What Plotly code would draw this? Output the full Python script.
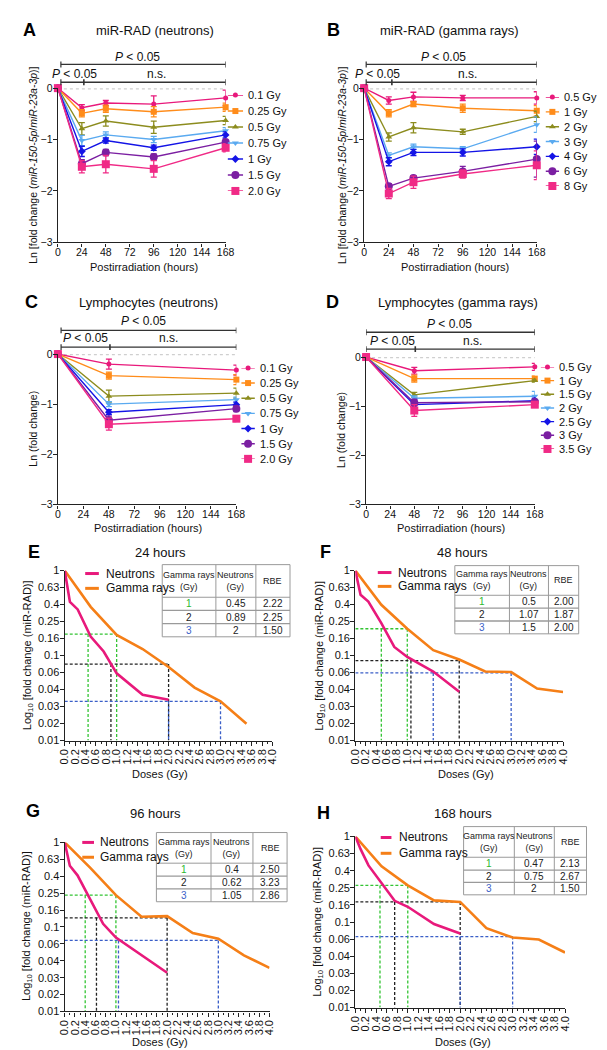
import numpy as np
import plotly.graph_objects as go

W, H = 607, 1050
FONT = "Liberation Sans, Arial, sans-serif"

# ---------------- data: panels A-D (Ln fold change) ----------------
hours_mir = [0, 24, 48, 96, 168]
hours_lym = [0, 48, 168]

A_labels = ["0.1 Gy", "0.25 Gy", "0.5 Gy", "0.75 Gy", "1 Gy", "1.5 Gy", "2.0 Gy"]
A_mean = [[0, -0.38, -0.29, -0.31, -0.19],
          [0, -0.49, -0.40, -0.46, -0.37],
          [0, -0.79, -0.64, -0.76, -0.63],
          [0, -1.02, -0.91, -1.00, -0.83],
          [0, -1.23, -1.02, -1.16, -0.91],
          [0, -1.47, -1.25, -1.34, -1.05],
          [0, -1.53, -1.48, -1.57, -1.16]]
A_err = [[0, .06, .05, .16, .15],
         [0, .07, .07, .10, .08],
         [0, .12, .10, .12, .08],
         [0, .10, .06, .06, .06],
         [0, .10, .05, .05, .06],
         [0, .08, .06, .06, .06],
         [0, .12, .17, .16, .08]]

B_labels = ["0.5 Gy", "1 Gy", "2 Gy", "3 Gy", "4 Gy", "6 Gy", "8 Gy"]
B_mean = [[0, -0.24, -0.17, -0.19, -0.19],
          [0, -0.49, -0.31, -0.39, -0.44],
          [0, -0.95, -0.77, -0.85, -0.55],
          [0, -1.31, -1.14, -1.18, -0.71],
          [0, -1.43, -1.25, -1.25, -1.14],
          [0, -1.91, -1.75, -1.62, -1.38],
          [0, -2.05, -1.83, -1.67, -1.50]]
B_err = [[0, .07, .09, .05, .12],
         [0, .07, .05, .08, .10],
         [0, .08, .10, .05, .10],
         [0, .05, .05, .04, .15],
         [0, .08, .06, .07, .15],
         [0, .05, .05, .10, .35],
         [0, .10, .12, .08, .28]]

C_labels = ["0.1 Gy", "0.25 Gy", "0.5 Gy", "0.75 Gy", "1 Gy", "1.5 Gy", "2.0 Gy"]
C_mean = [[0, -0.20, -0.32], [0, -0.43, -0.51], [0, -0.84, -0.78], [0, -1.00, -0.91],
          [0, -1.16, -1.01], [0, -1.32, -1.09], [0, -1.40, -1.29]]
C_err = [[0, .10, .10], [0, .07, .10], [0, .12, .10], [0, .05, .05],
         [0, .05, .05], [0, .08, .06], [0, .12, .06]]

D_labels = ["0.5 Gy", "1 Gy", "1.5 Gy", "2 Gy", "2.5 Gy", "3 Gy", "3.5 Gy"]
D_mean = [[0, -0.28, -0.20], [0, -0.44, -0.44], [0, -0.77, -0.48], [0, -0.84, -0.80],
          [0, -0.97, -0.89], [0, -0.93, -0.91], [0, -1.09, -0.97]]
D_err = [[0, .07, .07], [0, .07, .05], [0, .05, .03], [0, .05, .10],
         [0, .10, .05], [0, .07, .05], [0, .12, .05]]

# ---------------- data: panels E-H (fold change, custom log-like axis) ----------------
y_tick_values = [0.01, 0.02, 0.03, 0.04, 0.06, 0.1, 0.16, 0.25, 0.4, 0.63, 1]
y_tick_text = ["0.01", "0.02", "0.03", "0.04", "0.06", "0.1", "0.16", "0.25", "0.4", "0.63", "1"]

neutron_doses = [0, 0.1, 0.25, 0.5, 0.75, 1.0, 1.5, 2.0]
gamma_doses_E = [0, 0.5, 1.0, 1.5, 2.0, 2.5, 3.0, 3.5]
gamma_doses = [0, 0.5, 1.0, 1.5, 2.0, 2.5, 3.0, 3.5, 4.0]

E_neutron = [1, 0.43, 0.35, 0.169, 0.112, 0.059, 0.0366, 0.0337]
E_gamma = [1, 0.376, 0.176, 0.12, 0.071, 0.042, 0.0328, 0.0199]
F_neutron = [1, 0.52, 0.434, 0.24, 0.127, 0.096, 0.062, 0.0386]
F_gamma = [1, 0.398, 0.207, 0.116, 0.089, 0.062, 0.061, 0.041, 0.0384]
G_neutron = [1, 0.53, 0.41, 0.211, 0.109, 0.0725, 0.046, 0.0326]
G_gamma = [1, 0.50, 0.237, 0.133, 0.135, 0.083, 0.07, 0.0456, 0.0354]
H_neutron = [1, 0.71, 0.46, 0.28, 0.178, 0.152, 0.094, 0.071]
H_gamma = [1, 0.45, 0.267, 0.18, 0.173, 0.083, 0.063, 0.0595, 0.0437]

table_header = ["Gamma rays<br>(Gy)", "Neutrons<br>(Gy)", "RBE"]
table_gamma = ["1", "2", "3"]
table_gamma_dose = [1, 2, 3]
E_tab_neutron = [0.45, 0.89, 2]
E_tab_rbe = ["2.22", "2.25", "1.50"]
F_tab_neutron = [0.5, 1.07, 1.5]
F_tab_rbe = ["2.00", "1.87", "2.00"]
G_tab_neutron = [0.4, 0.62, 1.05]
G_tab_rbe = ["2.50", "3.23", "2.86"]
H_tab_neutron = [0.47, 0.75, 2]
H_tab_rbe = ["2.13", "2.67", "1.50"]

E_levels = [0.18, 0.0775, 0.0328]
F_levels = [0.207, 0.086, 0.0595]
G_levels = [0.237, 0.129, 0.0665]
H_levels = [0.267, 0.173, 0.0648]

# ---------------- styles ----------------
series_colors = ["#e8197b", "#ff8c1a", "#8c8c1e", "#5aaaf0", "#1414e6", "#7b1fa2", "#f02a86"]
series_symbols = ["circle", "square", "triangle-up", "triangle-down", "diamond", "circle", "square"]
series_sizes = [5, 6, 6, 6, 6, 8, 8]
NEU_COLOR = "#e8197b"
GAM_COLOR = "#f57f17"
DASH_COLORS = ["#33c433", "#222222", "#3b5fc8"]
TAB_TEXT_COLORS = ["#2eb82e", "#222222", "#3b5fc8"]
AX = "#222222"


def px_x(x):
    return x / W


def px_y(y):
    return 1 - y / H


fig = go.Figure()
annotations = []
shapes = []


def ann(text, x, y, size=11, xanchor="center", yanchor="middle", bold=False, angle=0, color="#111"):
    if bold:
        text = "<b>" + text + "</b>"
    annotations.append(dict(text=text, x=px_x(x), y=px_y(y), xref="paper", yref="paper",
                            showarrow=False, xanchor=xanchor, yanchor=yanchor, textangle=angle,
                            font=dict(family=FONT, size=size, color=color)))


def pline(x0, y0, x1, y1, color, width):
    shapes.append(dict(type="line", xref="paper", yref="paper", x0=px_x(x0), x1=px_x(x1),
                       y0=px_y(y0), y1=px_y(y1), line=dict(color=color, width=width)))


def yfc(vals):
    return np.interp(np.log(vals), np.log(y_tick_values), np.arange(len(y_tick_values)))


# panel geometry (px): x0, x1, ytop, ybottom
geomAD = {1: (45, 217, 75, 231), 2: (359, 536, 75, 231), 3: (45, 228, 344, 496), 4: (361, 534, 347, 496)}
geomEH = {5: (52, 265, 563, 735), 6: (350, 563, 563, 735), 7: (52, 262, 838, 1009), 8: (350, 565, 832, 1005)}

layout_axes = {}


def axname(i, kind):
    return kind + "axis" + ("" if i == 1 else str(i))


def ref(i, kind):
    return kind + ("" if i == 1 else str(i))


base_ax = dict(showline=True, linecolor=AX, linewidth=1.4, ticks="outside", ticklen=4,
               tickwidth=1.3, tickcolor=AX, showgrid=False, zeroline=False,
               tickfont=dict(family=FONT, size=10.5, color="#111"))

for i, (x0, x1, y0, y1) in geomAD.items():
    layout_axes[axname(i, "x")] = dict(base_ax, domain=[px_x(x0), px_x(x1)], range=[0, 168], ticklen=3,
                                       ticklabelstandoff=-3,
                                       tickvals=[0, 24, 48, 72, 96, 120, 144, 168], anchor=ref(i, "y"))
    layout_axes[axname(i, "y")] = dict(base_ax, domain=[px_y(y1), px_y(y0)], range=[-3, 0],
                                       ticklabelstandoff=-2,
                                       tickvals=[0, -1, -2, -3], anchor=ref(i, "x"))

for i, (x0, x1, y0, y1) in geomEH.items():
    layout_axes[axname(i, "x")] = dict(base_ax, domain=[px_x(x0), px_x(x1)], range=[0, 4],
                                       tickmode="linear", tick0=0, dtick=0.2, tickformat=".1f",
                                       tickangle=-90, anchor=ref(i, "y"), ticklabelstandoff=-1,
                                       tickfont=dict(family=FONT, size=11, color="#111"),
                                       minor=dict(dtick=0.1, ticks="outside", ticklen=2, tickcolor=AX))
    layout_axes[axname(i, "y")] = dict(base_ax, domain=[px_y(y1), px_y(y0)], range=[0, 10],
                                       tickvals=list(range(11)), ticktext=y_tick_text, anchor=ref(i, "x"),
                                       ticklabelstandoff=-2,
                                       tickfont=dict(family=FONT, size=11, color="#111"))

# ---------------- panels A-D traces ----------------
panelsAD = [
    (1, hours_mir, A_mean, A_err),
    (2, hours_mir, B_mean, B_err),
    (3, hours_lym, C_mean, C_err),
    (4, hours_lym, D_mean, D_err),
]
for i, hrs, means, errs in panelsAD:
    fig.add_trace(go.Scatter(x=[hrs[0], hrs[-1]], y=[0, 0], mode="lines", xaxis=ref(i, "x"), yaxis=ref(i, "y"),
                             line=dict(color="#cfcfcf", width=2.5, dash="dot"), showlegend=False,
                             hoverinfo="skip", cliponaxis=False))
    for k in range(len(means)):
        fig.add_trace(go.Scatter(
            x=hrs, y=means[k], mode="lines+markers", xaxis=ref(i, "x"), yaxis=ref(i, "y"),
            line=dict(color=series_colors[k], width=1.4),
            marker=dict(symbol=series_symbols[k], size=series_sizes[k], color=series_colors[k]),
            error_y=dict(type="data", array=errs[k], color=series_colors[k], thickness=1.3, width=3),
            showlegend=False, cliponaxis=False))

# legends for A-D on hidden axes
legend_geom = {
    # (line x0, line x1, text x, first y, last y)
    1: (219, 235, 238, 82, 179),
    2: (545, 559, 562, 84, 174),
    3: (233, 247, 250, 358, 450),
    4: (540, 554, 557, 357, 440),
}
legend_labels = {1: A_labels, 2: B_labels, 3: C_labels, 4: D_labels}
for i, (lx0, lx1, tx, ly0, ly1) in legend_geom.items():
    j = 8 + i
    layout_axes[axname(j, "x")] = dict(domain=[px_x(lx0), px_x(lx1)], range=[0, 1], visible=False, anchor=ref(j, "y"))
    layout_axes[axname(j, "y")] = dict(domain=[px_y(ly1), px_y(ly0)], range=[6, 0], visible=False, anchor=ref(j, "x"))
    labels = legend_labels[i]
    for k in range(len(labels)):
        fig.add_trace(go.Scatter(x=[0, 0.5, 1], y=[k, k, k], mode="lines", xaxis=ref(j, "x"), yaxis=ref(j, "y"),
                                 line=dict(color=series_colors[k], width=1.4), showlegend=False,
                                 hoverinfo="skip", cliponaxis=False))
        fig.add_trace(go.Scatter(x=[0.5], y=[k], mode="markers", xaxis=ref(j, "x"), yaxis=ref(j, "y"),
                                 marker=dict(symbol=series_symbols[k], size=series_sizes[k], color=series_colors[k]),
                                 showlegend=False, hoverinfo="skip", cliponaxis=False))
        ly = ly0 + (ly1 - ly0) * k / (len(labels) - 1)
        ann(labels[k], tx, ly, size=11, xanchor="left")

# significance brackets
brackets = {
    # axis: (x start, x mid, x end, top y px, low y px, topP (x,y), lowP (x,y), ns (x,y))
    1: (3, 26, 168, 51, 69, (127, 43), (62, 61), (146, 61)),
    2: (2, 27, 168, 51, 69, (440, 43), (373, 61), (465, 61)),
    3: (3, 49, 168, 320, 337, (133, 311), (73, 328), (158, 328)),
    4: (0, 49, 168, 322, 339, (447, 314), (388, 331), (470, 331)),
}
for i, (xs, xm, xe, ty, by, tp, lp, ns) in brackets.items():
    xr = ref(i, "x")
    for (a, b, yy) in [(xs, xe, ty), (xs, xe, by)]:
        shapes.append(dict(type="line", xref=xr, yref="paper", x0=a, x1=b, y0=px_y(yy), y1=px_y(yy),
                           line=dict(color="#333", width=1.4)))
    for (xx, yy) in [(xs, ty), (xe, ty), (xs, by), (xm, by), (xe, by)]:
        shapes.append(dict(type="line", xref=xr, yref="paper", x0=xx, x1=xx, y0=px_y(yy - 3), y1=px_y(yy + 3),
                           line=dict(color="#333", width=1.6 if xx == xm else 1.2)))
    ann("<i>P</i> < 0.05", tp[0], tp[1], size=12)
    ann("<i>P</i> < 0.05", lp[0], lp[1], size=12)
    ann("n.s.", ns[0], ns[1], size=12)

# ---------------- panels E-H ----------------
panelsEH = [
    (5, gamma_doses_E, E_neutron, E_gamma, E_levels, E_tab_neutron, E_tab_rbe),
    (6, gamma_doses, F_neutron, F_gamma, F_levels, F_tab_neutron, F_tab_rbe),
    (7, gamma_doses, G_neutron, G_gamma, G_levels, G_tab_neutron, G_tab_rbe),
    (8, gamma_doses, H_neutron, H_gamma, H_levels, H_tab_neutron, H_tab_rbe),
]
for i, gd, neu, gam, levels, tneu, trbe in panelsEH:
    xr, yr = ref(i, "x"), ref(i, "y")
    for c in range(3):
        lv = yfc([levels[c]])[0]
        bottom = yfc([y_tick_values[0]])[0]
        xs = [0, table_gamma_dose[c], None, tneu[c], tneu[c], None, table_gamma_dose[c], table_gamma_dose[c]]
        ys = [lv, lv, None, lv, bottom, None, lv, bottom]
        fig.add_trace(go.Scatter(x=xs, y=ys, mode="lines", xaxis=xr, yaxis=yr,
                                 line=dict(color=DASH_COLORS[c], width=1.3, dash="3px,2px"),
                                 showlegend=False, hoverinfo="skip", cliponaxis=False))
    fig.add_trace(go.Scatter(x=gd, y=yfc(gam), mode="lines", xaxis=xr, yaxis=yr,
                             line=dict(color=GAM_COLOR, width=2.6), showlegend=False, cliponaxis=False))
    fig.add_trace(go.Scatter(x=neutron_doses, y=yfc(neu), mode="lines", xaxis=xr, yaxis=yr,
                             line=dict(color=NEU_COLOR, width=2.6), showlegend=False, cliponaxis=False))

# tables drawn with lines + text: column edges, row edges (px)
table_geom = {
    5: ([152, 207, 248, 283], [557, 590, 603.3, 616.7, 630]),
    6: ([452, 508, 548, 579], [558, 588, 601, 614, 627]),
    7: ([146, 202, 245, 280], [828, 859, 872, 885, 898]),
    8: ([461, 513, 554, 587], [822, 853, 866, 878.5, 891]),
}
for i, gd, neu, gam, levels, tneu, trbe in panelsEH:
    cx, ry = table_geom[i]
    for xx in cx:
        pline(xx, ry[0], xx, ry[-1], "#9a9a9a", 1)
    for yy in ry:
        pline(cx[0], yy, cx[-1], yy, "#9a9a9a", 1 if yy in (ry[0], ry[1], ry[-1]) else 1.3)
    cols = [table_gamma, [str(v) for v in tneu], trbe]
    for c in range(3):
        xc = (cx[c] + cx[c + 1]) / 2
        ann(table_header[c], xc, (ry[0] + ry[1]) / 2, size=9, color="#222")
        for r in range(3):
            col = TAB_TEXT_COLORS[r] if c == 0 else "#222"
            ann(cols[c][r], xc, (ry[r + 1] + ry[r + 2]) / 2, size=10, color=col)

# E-H legends (lines + text)
eh_leg = {5: (73, 87, 92, 566, 581), 6: (373, 387, 392, 565, 579), 7: (70, 82, 86, 838, 853), 8: (376, 387, 393, 833, 849)}
for i, (lx0, lx1, tx, yn, yg) in eh_leg.items():
    pline(lx0, yn, lx1, yn, NEU_COLOR, 3)
    pline(lx0, yg, lx1, yg, GAM_COLOR, 3)
    ann("Neutrons", tx, yn, size=12, xanchor="left")
    ann("Gamma rays", tx, yg, size=12, xanchor="left")

# ---------------- titles, letters, axis titles ----------------
letters = [("A", 16, 16), ("B", 328, 16), ("C", 18, 291), ("D", 327, 291),
           ("E", 20, 544), ("F", 319, 544), ("G", 19, 806), ("H", 317, 808)]
for t, x, y in letters:
    ann(t, x, y, size=18, bold=True, color="#000")

titles = [("miR-RAD (neutrons)", 145, 17), ("miR-RAD (gamma rays)", 447, 17),
          ("Lymphocytes (neutrons)", 138, 292), ("Lymphocytes (gamma rays)", 455, 292),
          ("24 hours", 150, 545), ("48 hours", 460, 545), ("96 hours", 145, 809), ("168 hours", 460, 809)]
for t, x, y in titles:
    ann(t, x, y, size=13)

xtitles = [("Postirradiation (hours)", 133, 256), ("Postirradiation (hours)", 452, 256),
           ("Postirradiation (hours)", 137, 520), ("Postirradiation (hours)", 448, 520),
           ("Doses (Gy)", 150, 769), ("Doses (Gy)", 463, 769), ("Doses (Gy)", 150, 1040), ("Doses (Gy)", 460, 1040)]
for t, x, y in xtitles:
    ann(t, x, y, size=11)

mir_title = "Ln [fold change (<i>miR-150-5p</i>/<i>miR-23a-3p</i>)]"
lym_title = "Ln (fold change)"
log_title = "Log<sub>10</sub> [fold change (miR-RAD)]"
ytitles = [(mir_title, 20, 153, 10.5), (mir_title, 337, 153, 10.5), (lym_title, 20, 420, 10.5),
           (lym_title, 335, 421, 10.5),
           (log_title, 14, 649, 11), (log_title, 313, 649, 11), (log_title, 14, 923, 11), (log_title, 311, 918, 11)]
for t, x, y, s in ytitles:
    ann(t, x, y, size=s, angle=-90)

fig.update_layout(width=W, height=H, margin=dict(l=0, r=0, t=0, b=0),
                  paper_bgcolor="white", plot_bgcolor="white", showlegend=False,
                  annotations=annotations, shapes=shapes, font=dict(family=FONT), **layout_axes)

fig.write_html("out.html")
